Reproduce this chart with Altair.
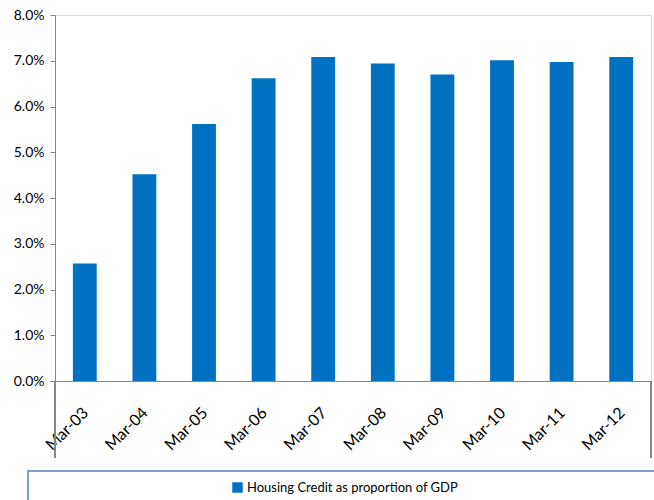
import altair as alt
import pandas as pd

categories = ["Mar-03", "Mar-04", "Mar-05", "Mar-06", "Mar-07",
              "Mar-08", "Mar-09", "Mar-10", "Mar-11", "Mar-12"]
values_pct = [2.57, 4.52, 5.62, 6.62, 7.08, 6.94, 6.70, 7.01, 6.97, 7.08]
series_name = "Housing Credit as proportion of GDP"
y_tick_values = [0.0, 0.01, 0.02, 0.03, 0.04, 0.05, 0.06, 0.07, 0.08]

df = pd.DataFrame({
    "period": categories,
    "share": [v / 100 for v in values_pct],
    "series": [series_name] * len(categories),
})

FONT = "Lato"
AXIS_GRAY = "#868686"
W, H = 596, 366

bars = alt.Chart(df).mark_bar().encode(
    x=alt.X("period:N", sort=categories,
            scale=alt.Scale(paddingInner=0.6, paddingOuter=0.3),
            axis=alt.Axis(title=None, labelAngle=-45, labelFont=FONT,
                          labelFontSize=16, labelColor="#000000",
                          labelAlign="right", labelBaseline="middle",
                          ticks=False, domainColor=AXIS_GRAY,
                          labelPadding=29, labelOffset=1)),
    y=alt.Y("share:Q", scale=alt.Scale(domain=[0, 0.08], nice=False),
            axis=alt.Axis(title=None, format=".1%", values=y_tick_values,
                          grid=False, labelFont=FONT, labelFontSize=14,
                          labelColor="#000000", domainColor=AXIS_GRAY,
                          tickColor=AXIS_GRAY, tickSize=5, labelPadding=6)),
    color=alt.Color("series:N", scale=alt.Scale(range=["#0070C0"]),
                    legend=alt.Legend(orient="none", legendX=176, legendY=466,
                                      title=None, symbolType="square",
                                      symbolSize=110, symbolStrokeWidth=0,
                                      labelFont=FONT, labelFontSize=13,
                                      labelColor="#000000", padding=0,
                                      labelOffset=3, labelLimit=0)),
)

edge_left = alt.Chart(df).mark_rule(color=AXIS_GRAY, clip=False).encode(
    x=alt.value(0), y=alt.value(H), y2=alt.value(H + 77))
edge_right = alt.Chart(df).mark_rule(color=AXIS_GRAY, clip=False).encode(
    x=alt.value(W), y=alt.value(H), y2=alt.value(H + 77))
legend_box = alt.Chart(df).mark_rect(fill=None, stroke="#7F9FD3",
                                     strokeWidth=1.5, clip=False).encode(
    x=alt.value(-27), x2=alt.value(W + 20),
    y=alt.value(456), y2=alt.value(520))

chart = alt.layer(bars, edge_left, edge_right, legend_box).properties(
    width=W, height=H,
    autosize=alt.AutoSizeParams(type="none"),
    padding={"left": 55, "top": 15, "right": 3, "bottom": 119},
).configure_view(stroke=None).configure(background="white")

chart.save("out.html", embed_options={"renderer": "svg", "actions": False})
